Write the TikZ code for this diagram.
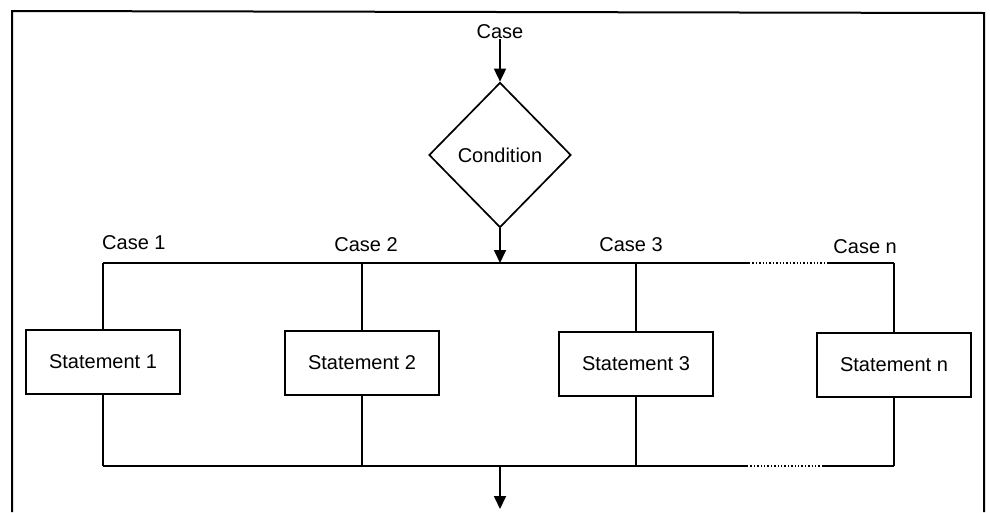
\documentclass[tikz,border=0pt]{standalone}
\usepackage{fontspec}
\setmainfont{Liberation Sans}
\usetikzlibrary{shapes.geometric,arrows.meta}
\begin{document}
\begin{tikzpicture}[x=1pt,y=-1pt,
  every node/.style={font=\fontsize{20}{24}\selectfont},
  wire/.style={line width=1.7pt},
  flow/.style={wire,-{Triangle[length=13pt,width=12pt]}},
  gap/.style={line width=1.4pt,dotted},
  stmt/.style={draw,line width=1.7pt,minimum width=154pt,minimum height=64pt,inner sep=0pt},
  cond/.style={draw,diamond,line width=1.7pt,minimum width=142pt,minimum height=145pt,inner sep=0pt},
  label/.style={inner sep=0pt}]
  \useasboundingbox (0,0) rectangle (990,512);

  % frame open at the bottom
  \draw[line width=2pt] (12,512) -- (12,11) -- (984,13) -- (984,512);

  % entry and decision
  \node[label] (case) at (500,32) {Case};
  \node[cond] (cond) at (500,155) {Condition};
  \draw[flow] (case) -- (cond.north);

  % branch bus
  \coordinate (tc) at (500,263);
  \coordinate (t1) at (103,263);
  \coordinate (t2) at (362,263);
  \coordinate (t3) at (636,263);
  \coordinate (tn) at (894,263);
  \coordinate (td1) at (749,263);
  \coordinate (td2) at (828,263);
  \draw[flow] (cond.south) -- (tc);
  \draw[wire] (t1) -- (td1);
  \draw[gap] (td1) -- (td2);
  \draw[wire] (td2) -- (tn);

  % case labels
  \node[label,anchor=west] (c1) at (102,243) {Case 1};
  \node[label] (c2) at (366,245) {Case 2};
  \node[label] (c3) at (631,245) {Case 3};
  \node[label,anchor=east] (cn) at (897,247) {Case n};

  % statements
  \node[stmt] (s1) at (103,362) {Statement 1};
  \node[stmt] (s2) at (362,363) {Statement 2};
  \node[stmt] (s3) at (636,364) {Statement 3};
  \node[stmt] (sn) at (894,365) {Statement n};

  \draw[wire] (t1) -- (s1.north);
  \draw[wire] (t2) -- (s2.north);
  \draw[wire] (t3) -- (s3.north);
  \draw[wire] (tn) -- (sn.north);

  % joining bus
  \coordinate (b1) at (103,466);
  \coordinate (b2) at (362,466);
  \coordinate (b3) at (636,466);
  \coordinate (bn) at (894,466);
  \coordinate (bd1) at (747,466);
  \coordinate (bd2) at (823,466);
  \coordinate (bc) at (500,466);
  \coordinate (out) at (500,509);
  \draw[wire] (s1.south) -- (b1);
  \draw[wire] (s2.south) -- (b2);
  \draw[wire] (s3.south) -- (b3);
  \draw[wire] (sn.south) -- (bn);
  \draw[wire] (b1) -- (bd1);
  \draw[gap] (bd1) -- (bd2);
  \draw[wire] (bd2) -- (bn);
  \draw[flow] (bc) -- (out);
\end{tikzpicture}
\end{document}
